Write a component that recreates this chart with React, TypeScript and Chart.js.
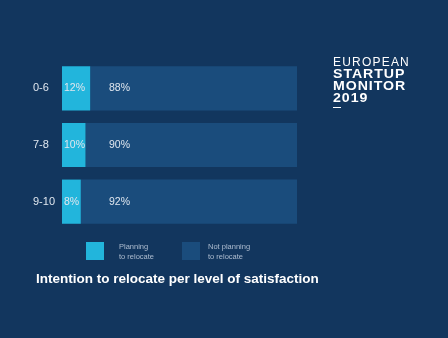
import React, { useEffect, useRef } from "react";
import { Chart, registerables } from "chart.js";
Chart.register(...registerables);

const categories = ["0-6", "7-8", "9-10"];
const planning = [12, 10, 8];
const notPlanning = [88, 90, 92];
const seriesNames = [["Planning", "to relocate"], ["Not planning", "to relocate"]];
const title = "Intention to relocate per level of satisfaction";
const logoLines = ["EUROPEAN", "STARTUP", "MONITOR", "2019"];

const BG = "#12365e";
const LIGHT = "#22b5dc";
const DARK = "#1a4c7c";
const FONT = "'Liberation Sans', Arial, sans-serif";

export default function App() {
  const ref = useRef<HTMLCanvasElement>(null);
  useEffect(() => {
    document.body.style.margin = "0";
    const decor = {
      id: "decor",
      beforeDraw(chart: any) {
        const c = chart.ctx;
        c.save();
        c.fillStyle = BG;
        c.fillRect(0, 0, chart.width, chart.height);
        c.restore();
      },
      afterDraw(chart: any) {
        const c = chart.ctx;
        const xs = chart.scales.x;
        const ys = chart.scales.y;
        c.save();
        c.fillStyle = "#dfe6ee";
        c.font = `11px ${FONT}`;
        c.textBaseline = "middle";
        c.textAlign = "left";
        categories.forEach((cat, i) => {
          c.fillText(cat, 33, ys.getPixelForValue(i));
        });
        c.font = `10.5px ${FONT}`;
        categories.forEach((_, i) => {
          const y = ys.getPixelForValue(i);
          c.fillText(planning[i] + "%", xs.getPixelForValue(0) + 2, y);
          c.fillText(notPlanning[i] + "%", xs.getPixelForValue(20), y);
        });
        const legend = [
          { x: 86, color: LIGHT, tx: 119 },
          { x: 182, color: DARK, tx: 208 },
        ];
        c.font = `7.5px ${FONT}`;
        c.textBaseline = "alphabetic";
        legend.forEach((l, i) => {
          c.fillStyle = l.color;
          c.fillRect(l.x, 242, 18, 18);
          c.fillStyle = "#aebdd0";
          c.fillText(seriesNames[i][0], l.tx, 249);
          c.fillText(seriesNames[i][1], l.tx, 259);
        });
        c.fillStyle = "#ffffff";
        c.font = `bold 13.5px ${FONT}`;
        c.fillText(title, 36, 283);
        // logo
        c.font = `12px ${FONT}`;
        (c as any).letterSpacing = "1.2px";
        c.fillText(logoLines[0], 333, 66);
        c.save();
        c.translate(333, 0);
        c.scale(1.18, 1);
        c.font = `bold 12px ${FONT}`;
        (c as any).letterSpacing = "0.8px";
        c.fillText(logoLines[1], 0, 78);
        c.fillText(logoLines[2], 0, 90);
        c.fillText(logoLines[3], 0, 102);
        c.restore();
        c.fillRect(333, 107, 8, 1);
        c.restore();
      },
    };
    const chart = new Chart(ref.current!, {
      type: "bar",
      data: {
        labels: categories,
        datasets: [
          { label: seriesNames[0].join(" "), data: planning, backgroundColor: LIGHT, borderWidth: 0 },
          { label: seriesNames[1].join(" "), data: notPlanning, backgroundColor: DARK, borderWidth: 0 },
        ],
      },
      options: {
        indexAxis: "y",
        animation: false,
        responsive: false,
        events: [],
        layout: { padding: { left: 62, right: 151, top: 60, bottom: 108 } },
        plugins: { legend: { display: false }, tooltip: { enabled: false } },
        scales: {
          x: { stacked: true, min: 0, max: 100, display: false },
          y: { stacked: true, display: false },
        },
        datasets: { bar: { barPercentage: 0.78, categoryPercentage: 1 } },
      },
      plugins: [decor],
    });
    return () => chart.destroy();
  }, []);
  return <canvas ref={ref} width={448} height={338} style={{ display: "block" }} />;
}
